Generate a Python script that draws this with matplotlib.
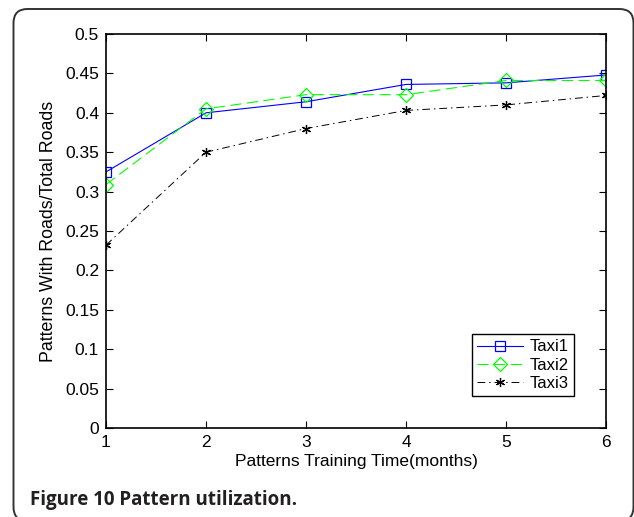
import matplotlib
matplotlib.use("Agg")
import matplotlib.pyplot as plt
from matplotlib.patches import FancyBboxPatch

months = [1, 2, 3, 4, 5, 6]
taxi1 = [0.325, 0.400, 0.414, 0.436, 0.438, 0.448]
taxi2 = [0.309, 0.405, 0.423, 0.423, 0.441, 0.441]
taxi3 = [0.232, 0.350, 0.380, 0.403, 0.410, 0.422]
series_names = ["Taxi1", "Taxi2", "Taxi3"]
yticks = [0, 0.05, 0.1, 0.15, 0.2, 0.25, 0.3, 0.35, 0.4, 0.45, 0.5]
ytick_labels = ["0", "0.05", "0.1", "0.15", "0.2", "0.25", "0.3", "0.35", "0.4", "0.45", "0.5"]

plt.rcParams['font.family'] = ['Liberation Sans', 'DejaVu Sans']

W, H = 634, 517
fig = plt.figure(figsize=(W / 100, H / 100), dpi=100)

# outer rounded frame (in inches)
frame = FancyBboxPatch((0.135, -0.04), 6.335 - 0.135, (H - 9) / 100 + 0.04,
                       boxstyle="round,pad=0,rounding_size=0.14",
                       transform=fig.dpi_scale_trans, fill=False,
                       edgecolor="#333333", linewidth=1.4, clip_on=False)
fig.patches.append(frame)

ax = fig.add_axes([106 / W, (517 - 428) / H, 500 / W, 394 / H])

ax.plot(months, taxi1, color="#0000ff", linestyle="-", linewidth=0.8,
        marker="s", markersize=7, markerfacecolor="none", markeredgewidth=0.9,
        label=series_names[0])
ax.plot(months, taxi2, color="#00ff00", linestyle=(0, (10, 5)), linewidth=0.8,
        marker="D", markersize=7, markerfacecolor="none", markeredgewidth=0.9,
        label=series_names[1])
ax.plot(months, taxi3, color="#000000", linestyle=(0, (8, 4, 1.5, 4)), linewidth=0.7,
        marker=(6, 2, 0), markersize=6.5, markeredgewidth=0.9,
        label=series_names[2])

ax.set_xlim(1, 6)
ax.set_ylim(0, 0.5)
ax.set_xticks(months)
ax.set_yticks(yticks)
ax.set_yticklabels(ytick_labels)
ax.tick_params(direction="in", length=5, width=0.8, top=True, right=True,
               labelsize=12.5, pad=5)
for s in ax.spines.values():
    s.set_linewidth(1.2)

ax.set_xlabel("Patterns Training Time(months)", fontsize=12.5, labelpad=3)
ax.set_ylabel("Patterns With Roads/Total Roads", fontsize=12.8, labelpad=6)

leg = ax.legend(loc="lower right", bbox_to_anchor=(574 / W, (517 - 396) / H),
                bbox_transform=fig.transFigure, fontsize=12, frameon=True,
                fancybox=False, edgecolor="black", framealpha=1,
                handlelength=2.8, borderpad=0.3, labelspacing=0.2,
                handletextpad=0.4, borderaxespad=0)
leg.get_frame().set_linewidth(1.0)

fig.text(30 / W, 1 - 505 / H, "Figure 10 Pattern utilization.",
         fontsize=13.5, fontweight="bold", color="#231f20",
         family=["Open Sans", "DejaVu Sans"], ha="left", va="baseline")

fig.savefig("out.png", dpi=100)
